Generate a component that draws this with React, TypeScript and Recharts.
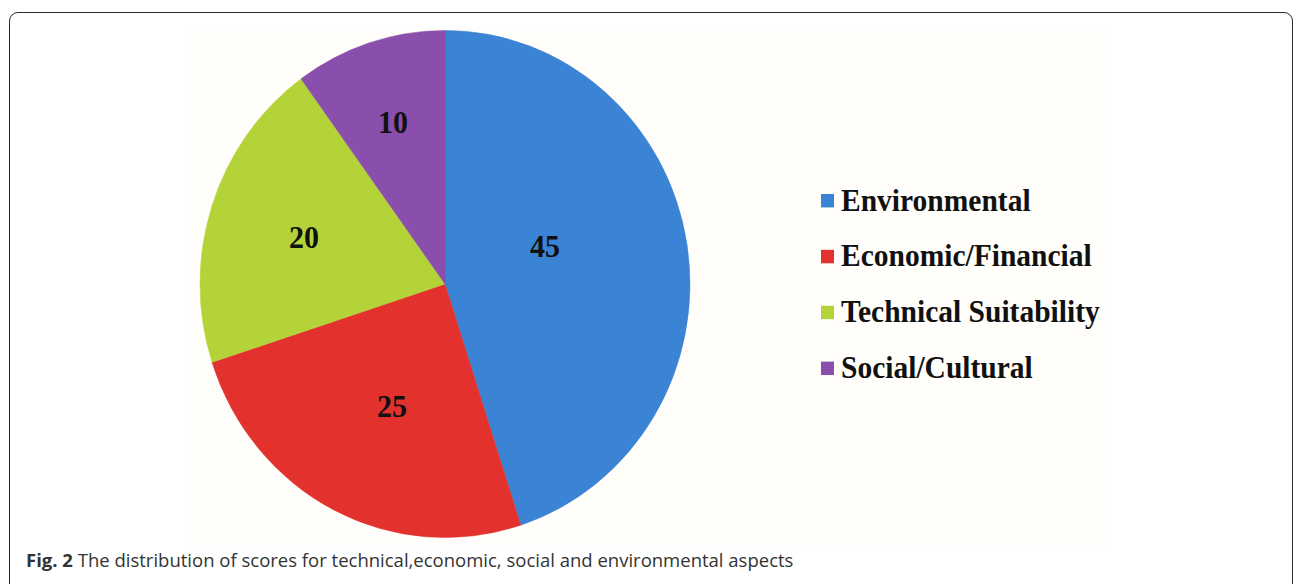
import { PieChart, Pie, Cell, Legend } from 'recharts';

const categories = ['Environmental', 'Economic/Financial', 'Technical Suitability', 'Social/Cultural'];
const scores = [45, 25, 20, 10];
const COLORS = ['#3b83d4', '#e3322d', '#b4d338', '#8a4fad'];

// where Excel dropped each label: fraction of radius + angle nudge (deg)
const LABEL_R = [0.433, 0.531, 0.603, 0.67];
const LABEL_SHIFT = [10.6, 3.0, 0.5, 0.5];

const RADIAN = Math.PI / 180;
const SCALE_Y = 1.035;
const CX = 445;
const CY = 284;

const chartData = categories.map((name, i) => ({ name, value: scores[i] }));

const renderLabel = (props: any) => {
  const { cx, cy, midAngle, outerRadius, index, value } = props;
  const r = outerRadius * LABEL_R[index];
  const a = (midAngle + LABEL_SHIFT[index]) * RADIAN;
  const x = cx + r * Math.cos(a);
  const y = cy - r * Math.sin(a);
  return (
    <text
      x={x}
      y={y}
      textAnchor="middle"
      dominantBaseline="central"
      fontFamily="'Liberation Serif', serif"
      fontWeight="bold"
      fontSize={30}
      fill="#111"
    >
      {value}
    </text>
  );
};

const renderLegend = () => (
  <div>
    {chartData.map((d, i) => (
      <div key={d.name} style={{ display: 'flex', alignItems: 'center', height: 53.8 }}>
        <span style={{ width: 13, height: 13, background: COLORS[i], marginRight: 7, flex: 'none' }} />
        <span
          style={{
            fontFamily: "'Liberation Serif', serif",
            fontWeight: 'bold',
            fontSize: 29.5,
            color: '#111',
            whiteSpace: 'nowrap',
          }}
        >
          {d.name}
        </span>
      </div>
    ))}
  </div>
);

export default function App() {
  return (
    <div style={{ position: 'fixed', left: 0, top: 0, width: 1295, height: 584, overflow: 'hidden', background: '#fff' }}>
      <div
        style={{
          position: 'absolute',
          left: 9,
          top: 12,
          width: 1282,
          height: 620,
          border: '1.5px solid #2a2a2a',
          borderRadius: 9,
        }}
      />
      <div style={{ position: 'absolute', left: 190, top: 29, width: 915, height: 516, background: '#fffefa' }} />
      <div
        style={{
          position: 'absolute',
          left: 0,
          top: 0,
          transform: `scaleY(${SCALE_Y})`,
          transformOrigin: `0 ${CY}px`,
        }}
      >
        <PieChart width={1295} height={584} margin={{ top: 0, right: 0, bottom: 0, left: 0 }}>
          <Pie
            data={chartData}
            dataKey="value"
            nameKey="name"
            cx={CX}
            cy={CY}
            outerRadius={245}
            startAngle={90}
            endAngle={-270}
            labelLine={false}
            label={renderLabel}
            isAnimationActive={false}
          >
            {chartData.map((entry, index) => (
              <Cell key={`cell-${index}`} fill={COLORS[index]} stroke={COLORS[index]} strokeWidth={0.5} />
            ))}
          </Pie>
          <Legend
            content={renderLegend}
            wrapperStyle={{ position: 'absolute', left: 821, top: 176.9, width: 360 }}
          />
        </PieChart>
      </div>
      <div
        style={{
          position: 'absolute',
          left: 26,
          top: 550,
          fontFamily: "'Open Sans', sans-serif",
          fontSize: 18.5,
          lineHeight: '20px',
          color: '#333',
          whiteSpace: 'nowrap',
        }}
      >
        <b>Fig. 2</b> The distribution of scores for technical,economic, social and environmental aspects
      </div>
    </div>
  );
}
